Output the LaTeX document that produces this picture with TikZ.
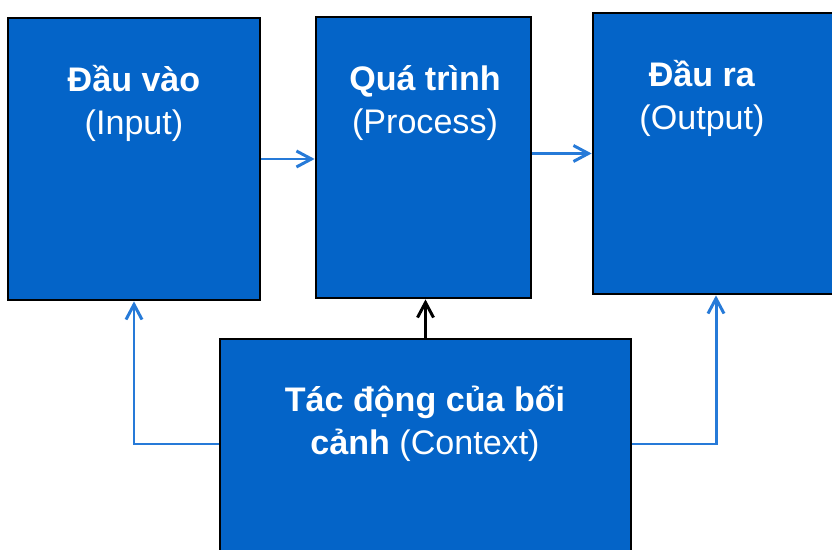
\documentclass[tikz,border=0pt]{standalone}
\usepackage{fontspec}
\setmainfont{Liberation Sans}
\usetikzlibrary{positioning,arrows.meta,calc}
\definecolor{boxblue}{RGB}{4,100,200}
\definecolor{linkblue}{RGB}{38,122,216}

\begin{document}
\begin{tikzpicture}[x=0.02cm, y=-0.02cm,
					block/.style={draw=black, line width=1.6pt, fill=boxblue, inner sep=0pt, minimum height=5.62cm},
					caption/.style={text=white, align=center, anchor=base, font=\fontsize{19.4}{25}\selectfont},
					flow/.style={draw=linkblue, line width=1.7pt, -{Straight Barb[length=3mm,width=3.2mm,line width=1.7pt]}}]
					
					\useasboundingbox (0,0) rectangle (832,550);
					\clip (0,0) rectangle (832,550);
					
					\node[block, minimum width=5.04cm, minimum height=5.64cm] (inp) at (134,159) {};
					\node[block, minimum width=4.3cm] (proc) at (423.5,157.5) {};
					\node[block, minimum width=4.92cm] (outp) at (716,153.5) {};
					\node[block, minimum width=8.22cm] (ctx) at (425.5,479.5) {};
					
					% base anchor sits on the last line
					\node[caption] (inptxt) at (134,135) {\textbf{Đầu vào}\\(Input)};
					\node[caption] (proctxt) at (425,134) {\textbf{Quá trình}\\(Process)};
					\node[caption] (outptxt) at (702,130) {\textbf{Đầu ra}\\(Output)};
					\node[caption] (ctxtxt) at (425,455) {\textbf{Tác động của bối}\\\textbf{cảnh} (Context)};
					
					\coordinate (tap) at (0,444);
					\draw[flow] (inp.east) -- (inp.east -| proc.west);
					\draw[flow] (proc.east |- outp.west) -- (outp.west);
					\draw[flow, draw=black] (ctx.north) -- (ctx.north |- proc.south);
					\draw[flow] (ctx.west |- tap) -| (inp.south);
					\draw[flow] (ctx.east |- tap) -| (outp.south);
				\end{tikzpicture}
\end{document}
